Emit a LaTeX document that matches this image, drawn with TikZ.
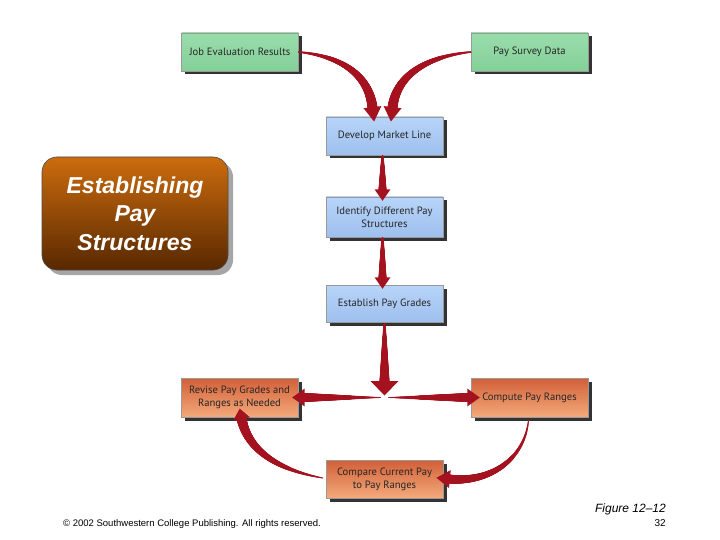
\documentclass[tikz,border=0pt]{standalone}
\usepackage{fontspec}
\setmainfont{Liberation Sans}
\newfontfamily\boxfont{PT Sans}
\usetikzlibrary{shadows,decorations.markings,calc}
\definecolor{arrowred}{HTML}{A5121F}
\definecolor{greentop}{HTML}{9ADDAC}
\definecolor{greenbot}{HTML}{84CF98}
\definecolor{bluetop}{HTML}{B8D4F8}
\definecolor{bluebot}{HTML}{9EC0EE}
\definecolor{orangetop}{HTML}{D25F38}
\definecolor{orangebot}{HTML}{F3AA7C}
\definecolor{titletop}{HTML}{CC6C0E}
\definecolor{titlebot}{HTML}{582800}
\definecolor{boxtext}{HTML}{262626}
\tikzset{
  basebox/.style={draw=black!40, line width=0.4pt, minimum width=117pt,
    minimum height=38pt, inner sep=1pt, align=center,
    font=\boxfont\fontsize{10.6}{13}\selectfont, text=boxtext,
    drop shadow={shadow xshift=3.5pt, shadow yshift=-3.5pt, fill=black!80, opacity=1}},
  greenbox/.style={basebox, top color=greentop, bottom color=greenbot},
  bluebox/.style={basebox, top color=bluetop, bottom color=bluebot},
  orangebox/.style={basebox, top color=orangetop, bottom color=orangebot},
  titlebox/.style={draw=black!70, line width=0.6pt, rounded corners=15pt,
    minimum width=186pt, minimum height=113pt, align=center,
    top color=titletop, bottom color=titlebot, text=white,
    font=\fontsize{23}{28.5}\selectfont\bfseries\itshape,
    drop shadow={shadow xshift=5pt, shadow yshift=-5pt, fill=black!35, opacity=1}},
  taperarrow/.style n args={4}{decoration={markings,
     mark=between positions 0 and 1 step 0.4pt with {
       \pgfmathsetmacro\rr{#1+(#2-#1)*\pgfkeysvalueof{/pgf/decoration/mark info/distance from start}/\pgfdecoratedpathlength}
       \fill[arrowred] (0pt,0pt) circle (\rr pt);},
     mark=at position 1 with {
       \fill[arrowred] (-0.5pt,-#3 pt) -- (#4 pt,0pt) -- (-0.5pt,#3 pt) -- cycle;}},
     decorate}
}
\begin{document}
\begin{tikzpicture}[x=1pt,y=-1pt]
\useasboundingbox (0,0) rectangle (720,540);
\fill[white] (0,0) rectangle (720,540);

% nodes
\node[titlebox] (title) at (135,213.5) {Establishing\\Pay\\Structures};
\node[greenbox] (job) at (240,52) {Job Evaluation Results};
\node[greenbox] (pay) at (529.5,52) {Pay Survey Data};
\node[bluebox] (dev) at (384.5,136) {Develop Market Line};
\node[bluebox, minimum height=40pt] (ident) at (384.5,217) {Identify Different Pay\\Structures};
\node[bluebox, minimum height=37pt] (grades) at (384.5,303.5) {Establish Pay Grades};
\node[orangebox, minimum height=39pt] (revise) at (239.5,397.5) {Revise Pay Grades and\\Ranges as Needed};
\node[orangebox, minimum height=39pt] (compute) at (529.5,397.5) {Compute Pay Ranges};
\node[orangebox] (compare) at (384.5,479) {Compare Current Pay\\to Pay Ranges};
\coordinate (hub) at (384.5,397.5);

% arrows
\path[taperarrow={0.8}{5}{9}{14}] (job.east) .. controls +(40,4) and +(-4,-35) .. ($(dev.north)+(-12,-9)$);
\path[taperarrow={0.8}{5}{9}{14}] (pay.west) .. controls +(-40,4) and +(4,-35) .. ($(dev.north)+(8,-9)$);
\path[taperarrow={1.2}{4}{8}{11}] ($(dev.south)+(-2,1)$) -- ($(ident.north)+(-2,-7)$);
\path[taperarrow={1.2}{4}{8}{11}] ($(ident.south)+(-2,1)$) -- ($(grades.north)+(-2,-7)$);
\path[taperarrow={1.2}{5}{14}{14}] ($(grades.south)+(0,2)$) -- ($(hub)+(0,-16)$);
\path[taperarrow={0.4}{4.5}{9}{12}] ($(hub)+(-4,0)$) -- ($(revise.east)+(6,0)$);
\path[taperarrow={0.4}{4.5}{9}{12}] ($(hub)+(4,0)$) -- ($(compute.west)+(-3,0)$);
\path[taperarrow={0.5}{4.5}{9}{13}] ($(compute.south)+(-1,3)$) .. controls +(-4,40) and +(40,4) .. ($(compare.east)+(6,0)$);
\path[taperarrow={0.5}{5}{8.5}{10}] ($(compare.west)+(-3,-1)$) .. controls +(-45,-8) and +(6,32) .. ($(revise.south)+(2,1)$);

% footer
\node[anchor=base west, font=\fontsize{9.5}{11}\selectfont, inner sep=0] (copy) at (63,526)
  {\textcopyright{} 2002 Southwestern College Publishing. All rights reserved.};
\node[anchor=base east, font=\fontsize{12}{14}\selectfont\itshape, inner sep=0] (fig) at (666,512) {Figure 12--12};
\node[anchor=base east, font=\fontsize{10}{12}\selectfont, inner sep=0] (page) at (666,526) {32};
\end{tikzpicture}
\end{document}
